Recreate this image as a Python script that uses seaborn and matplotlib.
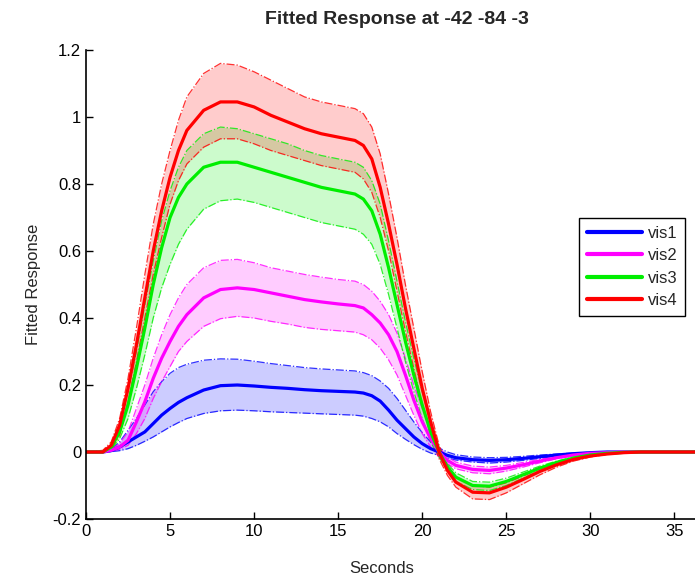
import matplotlib
matplotlib.use("Agg")
import pandas as pd
import matplotlib.pyplot as plt
import seaborn as sns
from matplotlib.lines import Line2D

# ==========================================
# DATA
# ==========================================
seconds = [0, 1, 1.5, 2, 2.5, 3, 3.5, 4, 4.5, 5, 5.5, 6, 7, 8, 9, 10, 11, 12, 13, 14, 15, 16,
           16.5, 17, 17.5, 18, 18.5, 19, 19.5, 20, 20.5, 21, 21.5, 22, 23, 24, 25, 26, 27, 28,
           29, 30, 31, 32, 33, 34, 35, 36, 37]

conditions = ["vis1", "vis2", "vis3", "vis4"]

vis1_mean = [0, 0, 0.004, 0.015, 0.03, 0.045, 0.06, 0.085, 0.11, 0.13, 0.148, 0.162, 0.185, 0.198,
             0.2, 0.197, 0.193, 0.19, 0.186, 0.183, 0.181, 0.179, 0.176, 0.168, 0.152, 0.125, 0.095,
             0.07, 0.045, 0.025, 0.01, 0.0, -0.01, -0.017, -0.023, -0.025, -0.023, -0.019, -0.014,
             -0.009, -0.005, -0.002, 0, 0, 0, 0, 0, 0, 0]
vis1_upper = [0, 0, 0.008, 0.03, 0.065, 0.1, 0.14, 0.18, 0.21, 0.235, 0.252, 0.262, 0.274, 0.278,
              0.277, 0.271, 0.264, 0.258, 0.252, 0.248, 0.245, 0.242, 0.237, 0.228, 0.212, 0.19, 0.16,
              0.125, 0.09, 0.058, 0.03, 0.012, 0.0, -0.008, -0.015, -0.017, -0.016, -0.013, -0.009,
              -0.006, -0.003, -0.001, 0, 0, 0, 0, 0, 0, 0]
vis1_lower = [0, 0, 0.001, 0.004, 0.01, 0.02, 0.032, 0.045, 0.06, 0.075, 0.088, 0.1, 0.115, 0.123,
              0.125, 0.123, 0.12, 0.118, 0.116, 0.114, 0.112, 0.11, 0.107, 0.1, 0.09, 0.075, 0.055,
              0.038, 0.022, 0.008, -0.003, -0.01, -0.018, -0.024, -0.03, -0.033, -0.03, -0.025, -0.019,
              -0.012, -0.007, -0.003, -0.001, 0, 0, 0, 0, 0, 0]

vis2_mean = [0, 0, 0.005, 0.015, 0.035, 0.09, 0.15, 0.22, 0.28, 0.33, 0.375, 0.41, 0.46, 0.485,
             0.49, 0.485, 0.475, 0.465, 0.455, 0.448, 0.442, 0.437, 0.43, 0.41, 0.385, 0.35, 0.3,
             0.23, 0.155, 0.09, 0.04, 0.0, -0.025, -0.04, -0.052, -0.055, -0.048, -0.038, -0.027,
             -0.017, -0.009, -0.004, -0.002, 0, 0, 0, 0, 0, 0]
vis2_upper = [0, 0, 0.008, 0.025, 0.06, 0.13, 0.2, 0.28, 0.35, 0.41, 0.46, 0.5, 0.55, 0.572,
              0.575, 0.565, 0.55, 0.54, 0.53, 0.522, 0.515, 0.51, 0.5, 0.48, 0.45, 0.41, 0.355,
              0.28, 0.2, 0.13, 0.065, 0.015, -0.015, -0.03, -0.042, -0.045, -0.04, -0.031, -0.022,
              -0.014, -0.007, -0.003, -0.001, 0, 0, 0, 0, 0, 0]
vis2_lower = [0, 0, 0.003, 0.008, 0.02, 0.055, 0.1, 0.16, 0.21, 0.255, 0.3, 0.33, 0.375, 0.398,
              0.405, 0.4, 0.39, 0.382, 0.372, 0.366, 0.362, 0.358, 0.35, 0.335, 0.31, 0.275, 0.23,
              0.17, 0.11, 0.055, 0.015, -0.015, -0.035, -0.05, -0.062, -0.065, -0.057, -0.045, -0.032,
              -0.02, -0.011, -0.005, -0.002, 0, 0, 0, 0, 0, 0]

vis3_mean = [0, 0, 0.015, 0.06, 0.14, 0.25, 0.37, 0.5, 0.61, 0.7, 0.76, 0.8, 0.85, 0.865,
             0.865, 0.85, 0.835, 0.82, 0.805, 0.79, 0.78, 0.77, 0.755, 0.72, 0.65, 0.55, 0.44,
             0.33, 0.23, 0.14, 0.06, 0.0, -0.045, -0.075, -0.1, -0.102, -0.088, -0.068, -0.048,
             -0.031, -0.018, -0.009, -0.004, -0.001, 0, 0, 0, 0, 0]
vis3_upper = [0, 0, 0.02, 0.08, 0.18, 0.3, 0.44, 0.57, 0.69, 0.78, 0.85, 0.9, 0.95, 0.97,
              0.965, 0.95, 0.935, 0.92, 0.9, 0.885, 0.875, 0.865, 0.85, 0.81, 0.74, 0.63, 0.51,
              0.39, 0.28, 0.18, 0.09, 0.015, -0.035, -0.062, -0.088, -0.09, -0.078, -0.06, -0.042,
              -0.027, -0.015, -0.008, -0.003, -0.001, 0, 0, 0, 0, 0]
vis3_lower = [0, 0, 0.008, 0.04, 0.1, 0.19, 0.29, 0.4, 0.49, 0.56, 0.62, 0.665, 0.725, 0.75,
              0.755, 0.745, 0.73, 0.715, 0.7, 0.685, 0.675, 0.665, 0.65, 0.62, 0.56, 0.47, 0.37,
              0.27, 0.18, 0.1, 0.03, -0.015, -0.055, -0.088, -0.112, -0.115, -0.1, -0.078, -0.055,
              -0.036, -0.021, -0.011, -0.005, -0.002, 0, 0, 0, 0, 0]

vis4_mean = [0, 0, 0.02, 0.08, 0.19, 0.32, 0.46, 0.6, 0.72, 0.82, 0.9, 0.96, 1.02, 1.045,
             1.045, 1.03, 1.005, 0.985, 0.965, 0.95, 0.94, 0.93, 0.915, 0.875, 0.79, 0.68, 0.56,
             0.43, 0.31, 0.19, 0.09, 0.0, -0.055, -0.09, -0.12, -0.122, -0.105, -0.082, -0.058,
             -0.038, -0.022, -0.012, -0.006, -0.002, 0, 0, 0, 0, 0]
vis4_upper = [0, 0.005, 0.03, 0.1, 0.22, 0.37, 0.53, 0.68, 0.8, 0.9, 0.99, 1.06, 1.13, 1.16,
              1.155, 1.135, 1.11, 1.085, 1.06, 1.045, 1.035, 1.025, 1.01, 0.97, 0.89, 0.77, 0.64,
              0.5, 0.37, 0.24, 0.12, 0.02, -0.04, -0.075, -0.1, -0.105, -0.092, -0.072, -0.05,
              -0.033, -0.019, -0.01, -0.005, -0.002, 0, 0, 0, 0, 0]
vis4_lower = [0, 0, 0.01, 0.05, 0.15, 0.27, 0.4, 0.53, 0.64, 0.74, 0.81, 0.86, 0.91, 0.935,
              0.935, 0.92, 0.9, 0.885, 0.87, 0.855, 0.845, 0.835, 0.815, 0.775, 0.7, 0.6, 0.48,
              0.36, 0.25, 0.14, 0.05, -0.02, -0.07, -0.105, -0.14, -0.142, -0.122, -0.095, -0.068,
              -0.045, -0.027, -0.015, -0.007, -0.003, 0, 0, 0, 0, 0]

y_ticks = [-0.2, 0, 0.2, 0.4, 0.6, 0.8, 1, 1.2]
y_tick_labels = ["-0.2", "0", "0.2", "0.4", "0.6", "0.8", "1", "1.2"]
x_ticks = [0, 5, 10, 15, 20, 25, 30, 35]

COLORS = {"vis1": "#0000ff", "vis2": "#ff00ff", "vis3": "#00ee00", "vis4": "#ff0000"}

# build a long table for seaborn
series = {
    "vis1": (vis1_mean, vis1_upper, vis1_lower),
    "vis2": (vis2_mean, vis2_upper, vis2_lower),
    "vis3": (vis3_mean, vis3_upper, vis3_lower),
    "vis4": (vis4_mean, vis4_upper, vis4_lower),
}
frames = []
for name in conditions:
    m, u, l = series[name]
    frames.append(pd.DataFrame({"Seconds": seconds, "mean": m, "upper": u,
                                "lower": l, "cond": name}))
df = pd.concat(frames, ignore_index=True)

sns.set_theme(style="ticks")
plt.rcParams['font.family'] = ['Liberation Sans', 'DejaVu Sans']

fig = plt.figure(figsize=(6.95, 5.81), dpi=100)
ax = fig.add_axes([86 / 695, 62 / 581, 622 / 695, 469 / 581])

# confidence bands (fill + dash-dot edges)
for name in conditions:
    sub = df[df["cond"] == name]
    ax.fill_between(sub["Seconds"], sub["lower"], sub["upper"],
                    color=COLORS[name], alpha=0.2, linewidth=0)
    sns.lineplot(data=sub, x="Seconds", y="upper", color=COLORS[name], ax=ax,
                 linestyle="-.", linewidth=0.9, alpha=0.8, estimator=None, legend=False)
    sns.lineplot(data=sub, x="Seconds", y="lower", color=COLORS[name], ax=ax,
                 linestyle="-.", linewidth=0.9, alpha=0.8, estimator=None, legend=False)

# mean curves
sns.lineplot(data=df, x="Seconds", y="mean", hue="cond", palette=COLORS,
             hue_order=conditions, linewidth=2.3, estimator=None, legend=False, ax=ax)

ax.set_xlim(0, 37)
ax.set_ylim(-0.2, 1.2)
ax.set_xticks(x_ticks)
ax.set_yticks(y_ticks)
ax.set_yticklabels(y_tick_labels)
ax.tick_params(direction="in", length=5, width=1, labelsize=12, colors="black")
sns.despine(ax=ax)
for s in ["left", "bottom"]:
    ax.spines[s].set_color("black")
    ax.spines[s].set_linewidth(1.2)

ax.set_title("Fitted Response at -42 -84 -3", fontsize=14, fontweight="bold", pad=19)
ax.set_xlabel("Seconds", fontsize=12)
ax.set_ylabel("Fitted Response", fontsize=12)
ax.xaxis.set_label_coords((382 - 86) / 622, -0.09)
ax.yaxis.set_label_coords(-0.072, 0.5)

handles = [Line2D([0], [0], color=COLORS[n], linewidth=3) for n in conditions]
leg = ax.legend(handles, conditions, loc="upper left",
                bbox_to_anchor=(579 / 695, 1 - 218 / 581), bbox_transform=fig.transFigure,
                borderaxespad=0, frameon=True, fancybox=False, framealpha=1,
                handlelength=3.3, handletextpad=0.4, labelspacing=0.45,
                borderpad=0.45, fontsize=12)
leg.get_frame().set_edgecolor("black")
leg.get_frame().set_linewidth(1.0)

fig.savefig("out.png", dpi=100)
